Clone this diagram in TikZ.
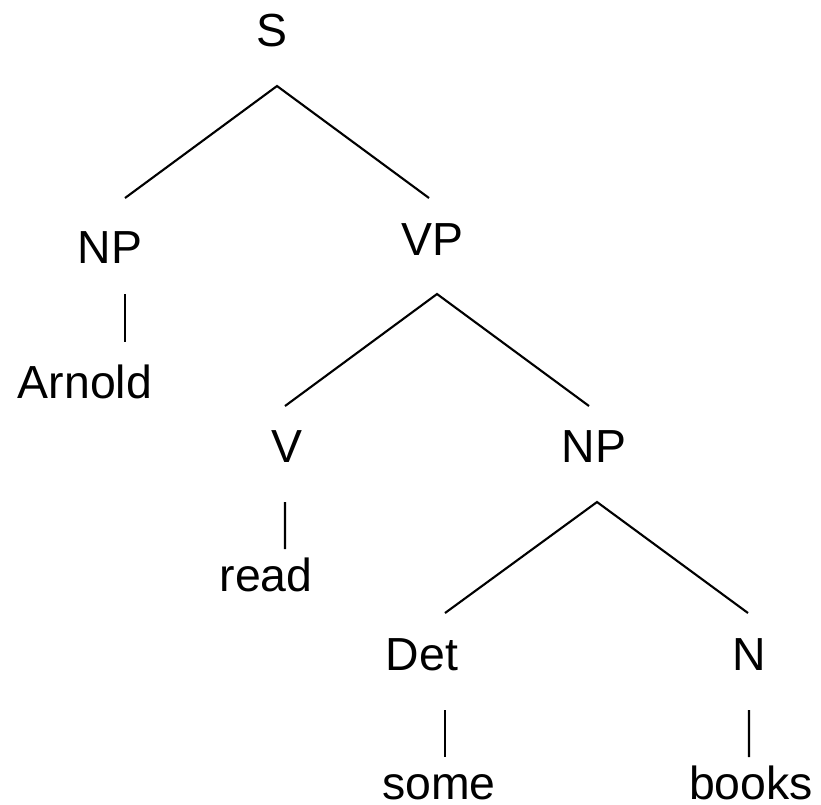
\documentclass[tikz,border=0pt]{standalone}
\usepackage{fontspec}
\setmainfont{Liberation Sans}
\usepackage{tikz}

\tikzset{
  cat/.style={anchor=base, inner sep=0pt, font=\fontsize{13.2}{15}\selectfont},
  branch/.style={line width=0.6pt, line cap=butt}
}

\begin{document}
\begin{tikzpicture}
        \useasboundingbox (0,-8.04) rectangle (8.21,0);

        % Root
        \node[cat] (S) at (2.72,-0.46) {S};

        % Level 1
        \node[cat] (NP) at (1.10,-2.63) {NP};
        \node[cat] (VP) at (4.32,-2.55) {VP};
        \node[cat] (arnold) at (0.85,-3.98) {Arnold};

        % Level 2
        \node[cat] (V) at (2.87,-4.62) {V};
        \node[cat] (NPobj) at (5.94,-4.62) {NP};
        \node[cat] (read) at (2.66,-5.91) {read};

        % Level 3
        \node[cat] (Det) at (4.22,-6.70) {Det};
        \node[cat] (N) at (7.49,-6.70) {N};

        % Leaves
        \node[cat] (some) at (4.39,-7.99) {some};
        \node[cat] (books) at (7.51,-7.99) {books};

        % Branches
        \draw[branch] ([shift={(0.15,0.65)}]NP.base) -- ([shift={(0.05,-0.40)}]S.base)
                      -- ([shift={(-0.03,0.57)}]VP.base);
        \draw[branch] ([shift={(0.15,-0.31)}]NP.base) -- ([shift={(0.40,0.56)}]arnold.base);
        \draw[branch] ([shift={(-0.02,0.56)}]V.base) -- ([shift={(0.05,-0.39)}]VP.base)
                      -- ([shift={(-0.05,0.56)}]NPobj.base);
        \draw[branch] ([shift={(-0.02,-0.40)}]V.base) -- ([shift={(0.19,0.42)}]read.base);
        \draw[branch] ([shift={(0.23,0.57)}]Det.base) -- ([shift={(0.03,-0.40)}]NPobj.base)
                      -- ([shift={(-0.01,0.57)}]N.base);
        \draw[branch] ([shift={(0.23,-0.40)}]Det.base) -- ([shift={(0.06,0.42)}]some.base);
        \draw[branch] ([shift={(0,-0.40)}]N.base) -- ([shift={(-0.02,0.42)}]books.base);
    \end{tikzpicture}
\end{document}
